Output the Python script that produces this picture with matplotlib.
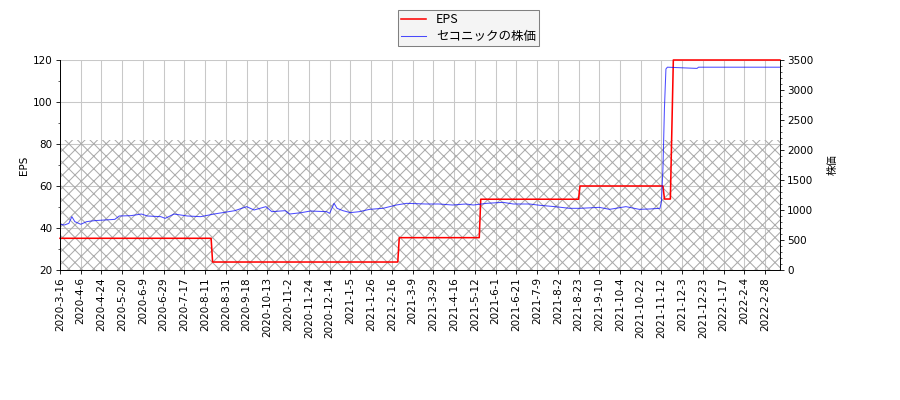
import numpy as np
import matplotlib
matplotlib.use("Agg")
import matplotlib.pyplot as plt
from matplotlib.ticker import MultipleLocator

plt.rcParams['font.family'] = ['DejaVu Sans', 'Noto Sans CJK JP']

###############################################################################
# Datos (índice = día hábil desde 2020-3-16)
###############################################################################
n_days = 487

tick_labels = ["2020-3-16", "2020-4-6", "2020-4-24", "2020-5-20", "2020-6-9",
               "2020-6-29", "2020-7-17", "2020-8-11", "2020-8-31", "2020-9-18",
               "2020-10-13", "2020-11-2", "2020-11-24", "2020-12-14", "2021-1-5",
               "2021-1-26", "2021-2-16", "2021-3-9", "2021-3-29", "2021-4-16",
               "2021-5-12", "2021-6-1", "2021-6-21", "2021-7-9", "2021-8-2",
               "2021-8-23", "2021-9-10", "2021-10-4", "2021-10-22", "2021-11-12",
               "2021-12-3", "2021-12-23", "2022-1-17", "2022-2-4", "2022-2-28"]

# EPS: valor y primer día en que rige
eps_start = [0, 103, 229, 284, 351, 408, 413, 414]
eps_vals = [35.1, 23.8, 35.4, 53.7, 60.0, 53.8, 86.7, 120.0]

# precio de la acción (lecturas aproximadas)
price_idx = [0, 3, 6, 8, 10, 14, 18, 23, 30, 37, 40, 48, 55, 59, 68, 71, 77,
             86, 95, 104, 118, 126, 131, 139, 143, 152, 155, 163, 169, 180,
             182, 185, 187, 191, 196, 202, 209, 218, 227, 234, 247, 256, 265,
             274, 279, 288, 299, 306, 317, 324, 334, 344, 351, 364, 371, 382,
             391, 398, 405, 406, 407, 408, 409, 410, 430, 431, 486]
price_vals = [762, 750, 778, 889, 806, 762, 806, 822, 833, 844, 900, 906, 933,
              900, 889, 861, 933, 900, 889, 933, 989, 1056, 1000, 1056, 972,
              989, 933, 956, 983, 972, 944, 1111, 1028, 989, 956, 972, 1011,
              1028, 1083, 1111, 1100, 1100, 1083, 1100, 1083, 1111, 1128, 1100,
              1100, 1078, 1056, 1028, 1028, 1044, 1011, 1056, 1011, 1017, 1028,
              1150, 1700, 2700, 3350, 3380, 3360, 3380, 3380]

hatch_top = 81.9

###############################################################################
# EPS diario (escalones)
###############################################################################
seg_len = np.diff(eps_start + [n_days])
eps_daily = np.repeat(eps_vals, seg_len)
dias = np.arange(n_days)

###############################################################################
# Gráfico
###############################################################################
fig = plt.figure(figsize=(12, 16 / 3), dpi=75)
plt.subplots_adjust(left=60 / 900, right=780 / 900, top=1 - 60 / 400,
                    bottom=1 - 270 / 400)
ax = fig.add_subplot(111)

ax.fill_between([0, n_days - 1], 0, hatch_top, hatch='xx', facecolor='none',
                edgecolor='#acacac', linewidth=0)
l1, = ax.plot(dias, eps_daily, color='red', linewidth=1.5, label='EPS',
              clip_on=False)
ax.set_ylim(20, 120)
ax.set_xlim(0, n_days - 1)
ax.yaxis.set_minor_locator(MultipleLocator(10))
ax.set_ylabel('EPS')
ax.set_xticks(np.arange(0, 14 * len(tick_labels), 14))
ax.set_xticklabels(tick_labels, rotation=90)
ax.grid(True, color='#c8c8c8', linewidth=1)
ax.set_axisbelow(True)
ax.spines['top'].set_visible(False)

ax2 = ax.twinx()
l2, = ax2.plot(price_idx, price_vals, color='blue', alpha=0.7, linewidth=1,
               label='セコニックの株価')
ax2.set_ylim(0, 3500)
ax2.yaxis.set_minor_locator(MultipleLocator(100))
ax2.set_ylabel('株価', family=['Noto Sans CJK JP', 'DejaVu Sans'], labelpad=14)
ax2.spines['top'].set_visible(False)

leg = fig.legend([l1, l2], ['EPS', 'セコニックの株価'], loc='upper center',
                 bbox_to_anchor=(0.5206, 0.975), borderaxespad=0,
                 fancybox=False, edgecolor='#808080', facecolor='#f4f4f4',
                 framealpha=1, labelspacing=0.3, borderpad=0.25,
                 prop={'family': ['Noto Sans CJK JP', 'DejaVu Sans'], 'size': 12})

plt.savefig("out.png", dpi=75)
